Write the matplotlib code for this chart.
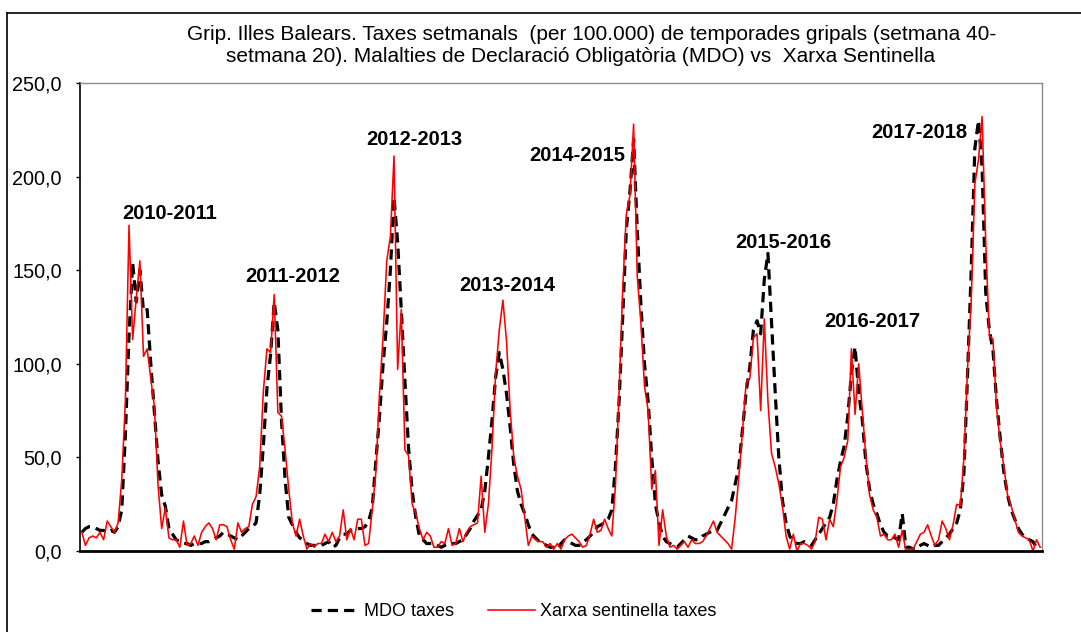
import numpy as np
import matplotlib
matplotlib.use("Agg")
import matplotlib.pyplot as plt
from matplotlib.lines import Line2D

plt.rcParams['font.family'] = ['Liberation Sans', 'DejaVu Sans']

# temporades (setmana 40 - setmana 20)
temporades = ["2010-2011", "2011-2012", "2012-2013", "2013-2014",
              "2014-2015", "2015-2016", "2016-2017", "2017-2018"]

# MDO taxes per 100.000, per setmana
mdo_1011 = [10, 12, 13, 13, 12, 11, 11, 10, 11, 10, 13, 22, 62, 115, 154, 133, 150, 128, 129, 100, 74, 48, 30, 24, 12, 9, 6, 5, 4, 4, 3, 4, 4]
mdo_1112 = [4, 5, 5, 6, 7, 8, 10, 9, 8, 7, 6, 8, 10, 12, 13, 15, 30, 56, 87, 105, 133, 118, 70, 38, 18, 14, 10, 7, 6, 4, 3, 3, 3]
mdo_1213 = [3, 4, 5, 2, 3, 7, 9, 9, 11, 12, 12, 12, 13, 16, 23, 48, 72, 100, 122, 150, 189, 165, 129, 91, 55, 32, 18, 8, 6, 4, 4, 4, 3]
mdo_1314 = [2, 3, 4, 4, 4, 5, 6, 9, 12, 16, 19, 22, 32, 50, 70, 93, 106, 97, 84, 66, 46, 32, 25, 20, 14, 9, 7, 5, 4, 3, 2, 2, 1]
mdo_1415 = [4, 6, 5, 4, 3, 3, 5, 6, 8, 10, 13, 14, 15, 17, 22, 45, 80, 125, 172, 192, 220, 172, 132, 100, 80, 50, 25, 15, 8, 5, 4, 3, 2]
mdo_1516 = [4, 6, 8, 7, 6, 6, 8, 9, 10, 11, 11, 15, 19, 23, 27, 36, 45, 65, 85, 98, 118, 123, 116, 145, 159, 122, 85, 50, 27, 15, 8, 5, 4, 4]
mdo_1617 = [5, 4, 3, 6, 9, 12, 15, 18, 25, 38, 48, 56, 72, 95, 109, 85, 70, 47, 33, 25, 20, 14, 10, 8, 8, 7, 6, 20, 2, 2, 1, 1, 3]
mdo_1718 = [4, 3, 2, 3, 3, 5, 7, 9, 12, 15, 22, 42, 95, 150, 215, 230, 205, 138, 118, 107, 80, 60, 42, 30, 22, 17, 12, 9, 7, 6, 5, 2, 1]

# Xarxa sentinella taxes per 100.000
xs_1011 = [10, 3, 7, 8, 7, 10, 6, 16, 13, 10, 15, 38, 80, 174, 113, 135, 155, 104, 108, 92, 77, 35, 12, 23, 7, 6, 6, 2, 16, 3, 4, 8, 3]
xs_1112 = [10, 13, 15, 12, 6, 14, 14, 13, 6, 1, 15, 10, 12, 13, 25, 29, 45, 85, 108, 106, 137, 74, 72, 54, 33, 15, 8, 17, 8, 1, 4, 2, 4]
xs_1213 = [4, 9, 5, 10, 5, 8, 22, 6, 12, 6, 17, 17, 3, 4, 22, 42, 84, 115, 155, 168, 211, 97, 129, 54, 51, 25, 20, 12, 6, 10, 8, 2, 2]
xs_1314 = [5, 4, 12, 3, 4, 12, 5, 10, 13, 14, 15, 40, 10, 25, 55, 95, 118, 134, 112, 75, 50, 40, 33, 18, 3, 8, 6, 5, 5, 2, 4, 1, 4]
xs_1415 = [1, 6, 8, 9, 7, 5, 2, 3, 9, 17, 10, 11, 17, 12, 8, 35, 85, 140, 180, 190, 228, 147, 122, 88, 75, 33, 43, 3, 22, 8, 2, 3, 1]
xs_1516 = [3, 5, 2, 6, 4, 4, 5, 8, 12, 16, 10, 8, 6, 4, 1, 18, 40, 64, 90, 92, 114, 116, 75, 124, 80, 52, 45, 36, 24, 8, 1, 9, 0, 4]
xs_1617 = [4, 3, 1, 5, 18, 17, 6, 17, 13, 27, 45, 50, 59, 108, 73, 100, 75, 50, 30, 22, 18, 8, 9, 6, 6, 9, 2, 11, 0, 1, 1, 5, 9]
xs_1718 = [10, 14, 8, 3, 6, 16, 12, 6, 14, 25, 24, 50, 98, 134, 196, 209, 232, 165, 115, 113, 76, 58, 45, 30, 24, 17, 10, 8, 7, 6, 0, 6, 2]

# posicio de les etiquetes de temporada (index setmana, valor)
etiq_x = [24.2, 58.2, 91.5, 117.3, 136.6, 193.2, 217.8, 230.6]
etiq_y = [180.4, 146.5, 219.9, 141.6, 211.5, 164.7, 122.5, 223.8]

mdo = np.concatenate([mdo_1011, mdo_1112, mdo_1213, mdo_1314,
                      mdo_1415, mdo_1516, mdo_1617, mdo_1718])
xarxa = np.concatenate([xs_1011, xs_1112, xs_1213, xs_1314,
                        xs_1415, xs_1516, xs_1617, xs_1718])
x = np.arange(len(mdo))

fig = plt.figure(figsize=(10.81, 6.32), dpi=100)
ax = fig.add_axes([80/1081, 1-551/632, 962/1081, 468/632])

ax.plot(x, mdo, color='black', lw=2.3, linestyle=(0, (3.2, 1.9)))
ax.plot(x, xarxa, color='red', lw=1.15)

ax.set_xlim(-0.5, len(x) - 0.5)
ax.set_ylim(0, 250)
ax.set_yticks(np.arange(0, 251, 50))
ax.set_yticklabels([("%.1f" % v).replace('.', ',') for v in np.arange(0, 251, 50)], fontsize=14.3)
ax.set_xticks([])
ax.tick_params(axis='y', direction='out', length=3, width=1, pad=10)

for s in ['top', 'right']:
    ax.spines[s].set_color('#8c8c8c')
    ax.spines[s].set_linewidth(1)
ax.spines['left'].set_linewidth(1.2)
ax.spines['bottom'].set_linewidth(2)

for t, tx, ty in zip(temporades, etiq_x, etiq_y):
    ax.text(tx, ty, t, ha='center', va='center', fontsize=14.5, fontweight='bold')

# titol
fig.text(592/1081, 1-35/632,
         "Grip. Illes Balears. Taxes setmanals  (per 100.000) de temporades gripals (setmana 40-",
         ha='center', va='center', fontsize=15)
fig.text(581/1081, 1-57/632,
         "setmana 20). Malalties de Declaració Obligatòria (MDO) vs  Xarxa Sentinella",
         ha='center', va='center', fontsize=15)

# llegenda
h1 = Line2D([], [], color='black', lw=2.3, linestyle=(0, (3.2, 1.9)))
h2 = Line2D([], [], color='red', lw=1.15)
fig.legend([h1, h2], ["MDO taxes", "Xarxa sentinella taxes"], loc='center',
           bbox_to_anchor=(514/1081, 1-612/632), ncol=2, frameon=False,
           fontsize=13, handlelength=2.6, handletextpad=0.3, columnspacing=1.9)

# marc exterior
fig.add_artist(Line2D([7.5/1081, 1], [1-12.5/632, 1-12.5/632], color='black', lw=1.2))
fig.add_artist(Line2D([7.5/1081, 7.5/1081], [0, 1-12.5/632], color='black', lw=1.2))

fig.savefig("out.png", dpi=100)
